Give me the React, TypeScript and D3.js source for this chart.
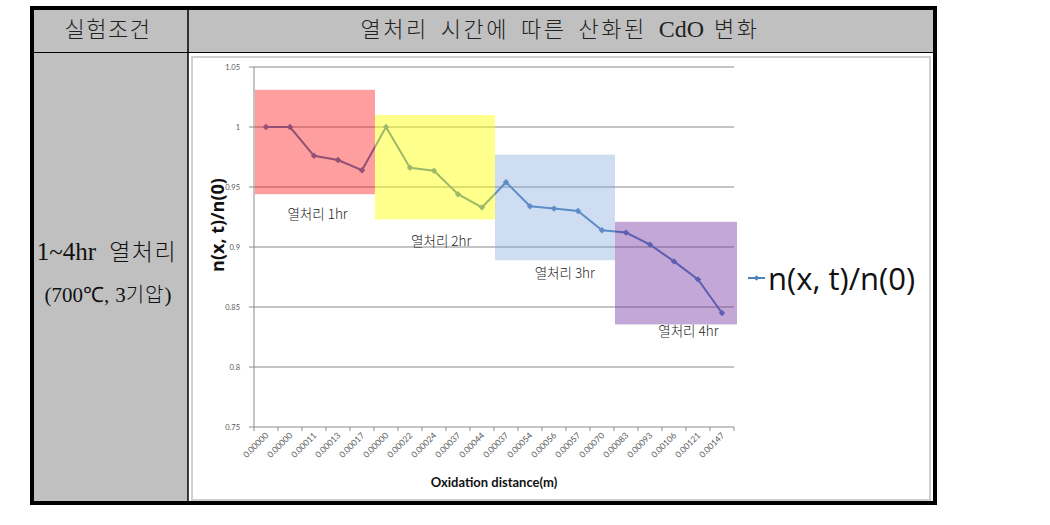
import React from "react";
import * as d3 from "d3";

const categories: string[] = [
  "0.00000", "0.00000", "0.00011", "0.00013", "0.00017",
  "0.00000", "0.00022", "0.00024", "0.00037", "0.00044",
  "0.00037", "0.00054", "0.00056", "0.00057", "0.00070",
  "0.00083", "0.00093", "0.00106", "0.00121", "0.00147",
];
const values: number[] = [
  1.0, 1.0, 0.976, 0.9725, 0.964,
  1.0, 0.966, 0.9635, 0.944, 0.933,
  0.954, 0.934, 0.932, 0.93, 0.914,
  0.912, 0.902, 0.888, 0.873, 0.845,
];
const yTicks: number[] = [0.75, 0.8, 0.85, 0.9, 0.95, 1, 1.05];
const yTickLabels: string[] = ["0.75", "0.8", "0.85", "0.9", "0.95", "1", "1.05"];

const boxLabels: string[] = ["열처리 1hr", "열처리 2hr", "열처리 3hr", "열처리 4hr"];
const boxStart: number[] = [0, 5, 10, 15];
const boxEnd: number[] = [5, 10, 15, 20];
const boxTop: number[] = [1.031, 1.01, 0.977, 0.921];
const boxBottom: number[] = [0.944, 0.923, 0.889, 0.8355];
const boxColors: string[] = ["rgba(255,0,0,0.38)", "rgba(255,255,0,0.45)", "rgba(120,160,215,0.36)", "rgba(112,48,160,0.42)"];
const labelValue: number[] = [0.923, 0.901, 0.874, 0.826];
const labelBand: number[] = [2.65, 7.8, 12.95, 18.1];

const titleWords: string[] = ["열처리", "시간에", "따른", "산화된"];
const seriesName = "n(x, t)/n(0)";

export default function App() {
  const W = 1050, H = 525;
  const x0 = 254, x1 = 734;
  const x = d3.scaleBand<number>().domain(d3.range(categories.length)).range([x0, x1]);
  const y = d3.scaleLinear().domain([0.75, 1.05]).range([427, 67]);
  const bw = x.bandwidth();
  const cx = (i: number) => (x(i) as number) + bw / 2;
  const xPos = (b: number) => x0 + b * bw;
  const line = d3.line<number>().x((_, i) => cx(i)).y((d) => y(d));
  const diamond = (px: number, py: number, r: number) =>
    `M${px},${py - r}L${px + r},${py}L${px},${py + r}L${px - r},${py}Z`;
  const bandEdge = (i: number) => (i >= categories.length ? x1 : (x(i) as number));

  const kfont = "'Noto Sans CJK KR', sans-serif";
  const sfont = "'Liberation Serif', serif";
  const cfont = "Lato, 'Open Sans', sans-serif";
  const ofont = "'Open Sans', Lato, sans-serif";

  return (
    <svg width={W} height={H} style={{ position: "absolute", left: 0, top: 0, background: "#fff" }}>
      {/* table */}
      <rect x={32} y={8} width={903} height={495} fill="#fff" />
      <rect x={32} y={8} width={903} height={44} fill="#c0c0c0" />
      <rect x={32} y={52} width={156} height={451} fill="#c0c0c0" />
      <line x1={32} x2={935} y1={52.5} y2={52.5} stroke="#000" strokeWidth={1.2} />
      <line x1={188} x2={188} y1={8} y2={503} stroke="#000" strokeWidth={1.5} />
      <rect x={32} y={8} width={903} height={495} fill="none" stroke="#000" strokeWidth={4} />
      <text x={108} y={37} textAnchor="middle" fontFamily={kfont} fontSize={22} fontWeight={300} letterSpacing={1.5} fill="#222">실험조건</text>
      <text x={560} y={37} textAnchor="middle" fontFamily={kfont} fontSize={22} fontWeight={300} fill="#222">
        {titleWords.map((w, i) => (
          <tspan key={w} letterSpacing={2.5} dx={i === 0 ? 0 : 12}>{w}</tspan>
        ))}
        <tspan fontFamily={sfont} fontSize={24} dx={12}>CdO</tspan>
        <tspan letterSpacing={2.5} dx={10}>변화</tspan>
      </text>
      <text x={107} y={260} textAnchor="middle" fill="#111">
        <tspan fontFamily={sfont} fontSize={25}>1~4hr</tspan>
        <tspan fontFamily={kfont} fontSize={23} fontWeight={300} dx={13} letterSpacing={1.5}>열처리</tspan>
      </text>
      <text x={108} y={302} textAnchor="middle" fill="#111">
        <tspan fontFamily={sfont} fontSize={21}>(700℃,</tspan>
        <tspan fontFamily={sfont} fontSize={21} dx={6}>3</tspan>
        <tspan fontFamily={kfont} fontSize={20} fontWeight={300} letterSpacing={1}>기압</tspan>
        <tspan fontFamily={sfont} fontSize={21}>)</tspan>
      </text>

      {/* chart frame */}
      <rect x={192} y={57} width={738} height={443} fill="#fff" stroke="#cfcfcf" strokeWidth={2} />

      {/* gridlines */}
      {yTicks.slice(1).map((t) => (
        <line key={t} x1={x0} x2={x1} y1={y(t)} y2={y(t)} stroke="#8a8a8a" strokeWidth={1} />
      ))}
      {/* axes */}
      <line x1={x0} x2={x0} y1={y(1.05)} y2={y(0.75)} stroke="#8a8a8a" strokeWidth={1} />
      <line x1={x0} x2={x1} y1={y(0.75)} y2={y(0.75)} stroke="#8a8a8a" strokeWidth={1} />
      {yTicks.map((t, i) => (
        <g key={"yt" + t}>
          <line x1={x0 - 5} x2={x0} y1={y(t)} y2={y(t)} stroke="#8a8a8a" />
          <text x={x0 - 14} y={y(t) + 2.5} textAnchor="end" fontFamily={cfont} fontSize={7.5} fill="#595959">{yTickLabels[i]}</text>
        </g>
      ))}
      {d3.range(categories.length + 1).map((i) => (
        <line key={"xt" + i} x1={bandEdge(i)} x2={bandEdge(i)} y1={y(0.75)} y2={y(0.75) + 4} stroke="#8a8a8a" />
      ))}
      {categories.map((c, i) => (
        <text key={"xl" + i} transform={`translate(${cx(i) + 3},${436}) rotate(-45)`} textAnchor="end" fontFamily={cfont} fontSize={8.5} fill="#595959">{c}</text>
      ))}

      {/* series */}
      <path d={line(values) || ""} fill="none" stroke="#4F81BD" strokeWidth={2} />
      {values.map((v, i) => (
        <path key={"m" + i} d={diamond(cx(i), y(v), 3.2)} fill="#4F81BD" />
      ))}

      {/* overlay boxes */}
      {boxLabels.map((lb, i) => (
        <g key={"b" + i}>
          <rect x={bandEdge(boxStart[i]) + 1} y={y(boxTop[i])} width={bandEdge(boxEnd[i]) - bandEdge(boxStart[i]) + (i === 3 ? 2 : 0)} height={y(boxBottom[i]) - y(boxTop[i])} fill={boxColors[i]} />
          <text x={xPos(labelBand[i])} y={y(labelValue[i])} textAnchor="middle" fontFamily={kfont} fontSize={13.5} fontWeight={300} fill="#222">{lb}</text>
        </g>
      ))}

      {/* axis titles */}
      <text transform={`translate(${224},${225}) rotate(-90)`} textAnchor="middle" fontFamily={ofont} fontWeight={700} fontSize={18} fill="#111">{seriesName}</text>
      <text x={494} y={487} textAnchor="middle" fontFamily={cfont} fontWeight={700} fontSize={13} fill="#111">Oxidation distance(m)</text>

      {/* legend */}
      <line x1={748} x2={765} y1={278} y2={278} stroke="#4F81BD" strokeWidth={2} />
      <path d={diamond(756.5, 278, 2.8)} fill="#4F81BD" />
      <text x={768} y={290} fontFamily={ofont} fontSize={31} fill="#111">{seriesName}</text>
    </svg>
  );
}
